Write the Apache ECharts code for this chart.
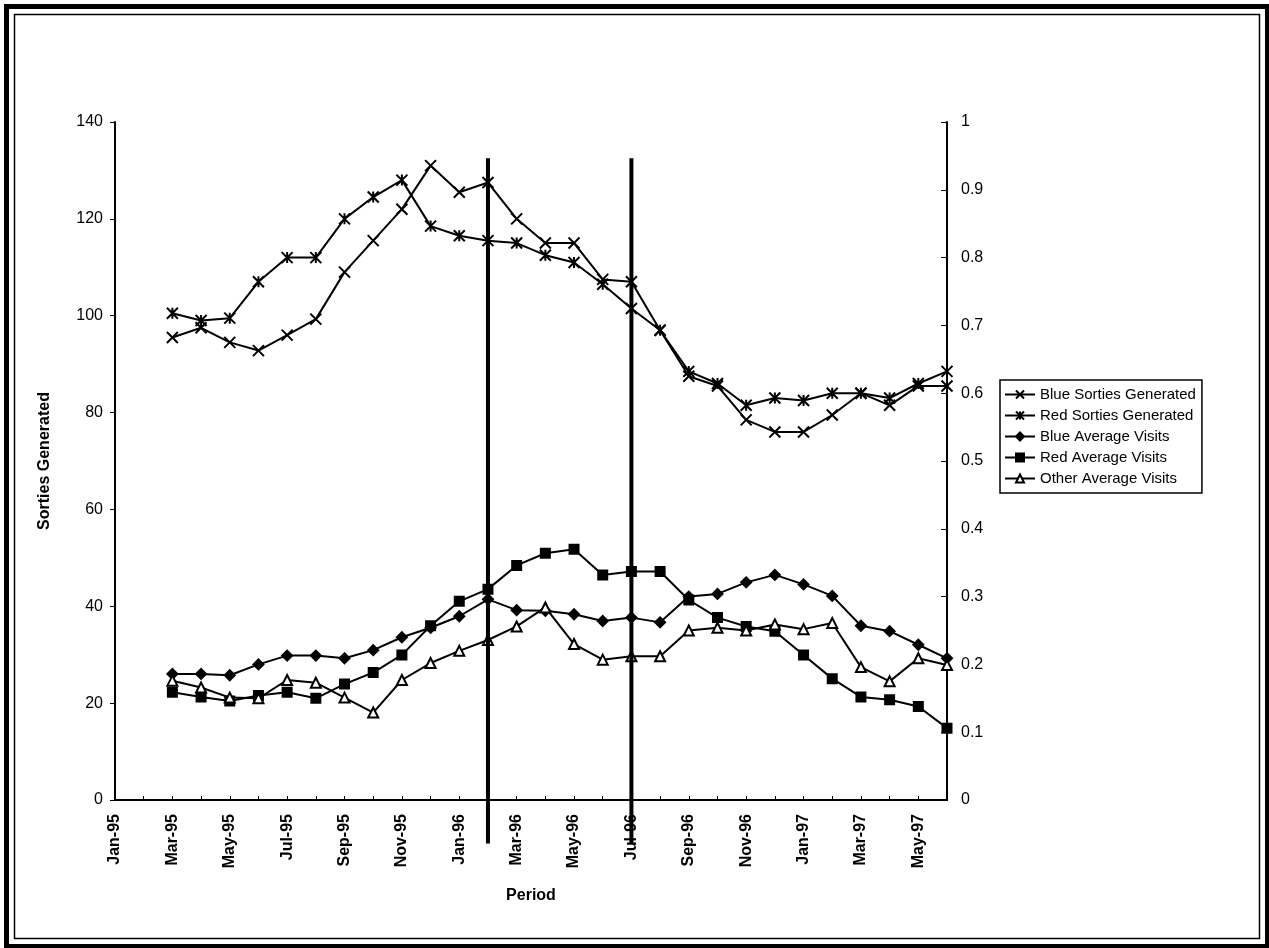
<!DOCTYPE html>
<html><head><meta charset="utf-8">
<script src="https://cdn.jsdelivr.net/npm/echarts@6/dist/echarts.min.js"></script>
<style>html,body{margin:0;background:#fff}#main{width:1269px;height:948px}</style>
</head><body><div id="main"></div>
<script>
// months Jan-95 .. Jun-97
var months = ['Jan-95','Feb-95','Mar-95','Apr-95','May-95','Jun-95','Jul-95','Aug-95','Sep-95','Oct-95','Nov-95','Dec-95',
  'Jan-96','Feb-96','Mar-96','Apr-96','May-96','Jun-96','Jul-96','Aug-96','Sep-96','Oct-96','Nov-96','Dec-96',
  'Jan-97','Feb-97','Mar-97','Apr-97','May-97','Jun-97'];
// sorties (left axis), data starts Mar-95
var blueSorties = ['-','-',95.5,97.5,94.5,92.8,96,99.3,109,115.5,122,131,125.5,127.5,120,115,115,107.5,107,97,87.5,85.5,78.5,76,76,79.5,84,81.5,85.5,85.5];
var redSorties  = ['-','-',100.5,99,99.5,107,112,112,120,124.5,128,118.5,116.5,115.5,115,112.5,111,106.5,101.5,97,88.5,86,81.5,83,82.5,84,84,83,86,88.5];
// average visits (right axis)
var blueVisits  = ['-','-',0.186,0.186,0.184,0.2,0.213,0.213,0.209,0.221,0.24,0.254,0.271,0.296,0.28,0.279,0.274,0.264,0.269,0.262,0.3,0.304,0.321,0.332,0.318,0.301,0.257,0.249,0.229,0.209];
var redVisits   = ['-','-',0.159,0.152,0.146,0.154,0.159,0.15,0.171,0.188,0.214,0.257,0.293,0.311,0.346,0.364,0.37,0.332,0.337,0.337,0.295,0.269,0.256,0.249,0.214,0.179,0.152,0.148,0.138,0.106];
var otherVisits = ['-','-',0.176,0.166,0.151,0.15,0.177,0.173,0.151,0.129,0.177,0.202,0.22,0.236,0.256,0.284,0.23,0.207,0.212,0.212,0.25,0.254,0.25,0.259,0.252,0.261,0.196,0.175,0.209,0.199];
// vertical marker lines (month index, slightly after Feb-96 / at Jul-96)
var markPos = [13.15, 17.95];

var crossPath = 'path://M0,0L10,10M10,0L0,10';
var starPath = 'path://M0,0L10,10M10,0L0,10M5,0L5,10M0,0L10,10';
var font = 'Liberation Sans, Arial, sans-serif';

var chart = echarts.init(document.getElementById('main'));
function line(name, data, axis, symbol, size, fill) {
  return {
    name: name, type: 'line', yAxisIndex: axis, data: data,
    symbol: symbol, symbolSize: size, showAllSymbol: true, animation: false,
    lineStyle: {color: '#000', width: 2},
    itemStyle: {color: fill, borderColor: '#000', borderWidth: 2}
  };
}
var series = [
  line('Blue Sorties Generated', blueSorties, 0, crossPath, 11, '#000'),
  line('Red Sorties Generated', redSorties, 0, starPath, 11, '#000'),
  line('Blue Average Visits', blueVisits, 1, 'diamond', 10, '#000'),
  line('Red Average Visits', redVisits, 1, 'rect', 9, '#000'),
  line('Other Average Visits', otherVisits, 1, 'triangle', 10, '#fff')
];

chart.setOption({
  animation: false,
  textStyle: {fontFamily: font},
  grid: {left: 115, right: 322, top: 122, bottom: 148},
  legend: {
    orient: 'vertical', left: 1000, top: 380, itemGap: 6, itemWidth: 30, itemHeight: 10,
    borderColor: '#000', borderWidth: 1.5, padding: [7, 6, 7, 4],
    textStyle: {fontSize: 15, color: '#000', fontFamily: font},
    data: series.map(function (s) { return s.name; })
  },
  xAxis: {
    type: 'category', data: months, boundaryGap: false,
    name: 'Period', nameLocation: 'middle', nameGap: 88,
    nameTextStyle: {fontSize: 16, fontWeight: 'bold', color: '#000'},
    axisLine: {lineStyle: {color: '#000', width: 2}},
    axisTick: {show: true, interval: 0, inside: true, length: 4, lineStyle: {color: '#000'}},
    axisLabel: {interval: 1, rotate: 90, color: '#000', fontSize: 16, fontWeight: 'bold', margin: 14},
    splitLine: {show: false}
  },
  yAxis: [{
    type: 'value', min: 0, max: 140, interval: 20,
    name: 'Sorties Generated', nameLocation: 'middle', nameGap: 62, nameRotate: 90,
    nameTextStyle: {fontSize: 16, fontWeight: 'bold', color: '#000'},
    axisLine: {show: true, lineStyle: {color: '#000', width: 2}},
    axisTick: {show: true, length: 5, lineStyle: {color: '#000'}},
    axisLabel: {color: '#000', fontSize: 16, margin: 12},
    splitLine: {show: false}
  }, {
    type: 'value', min: 0, max: 1, interval: 0.1, position: 'right',
    axisLine: {show: true, lineStyle: {color: '#000', width: 2}},
    axisTick: {show: true, inside: true, length: 6, lineStyle: {color: '#000'}},
    axisLabel: {color: '#000', fontSize: 16, margin: 14},
    splitLine: {show: false}
  }],
  series: series
});

// frame + vertical lines, placed through the axes' own scales
var graphics = [
  {type: 'rect', left: 4, top: 4, shape: {width: 1261, height: 940}, style: {fill: 'none', stroke: '#000', lineWidth: 5}},
  {type: 'rect', left: 12, top: 12, shape: {width: 1245, height: 924}, style: {fill: 'none', stroke: '#000', lineWidth: 1.5}}
];
markPos.forEach(function (p) {
  var top = chart.convertToPixel({gridIndex: 0}, [p, 132.5]);
  var bot = chart.convertToPixel({gridIndex: 0}, [p, -9]);
  graphics.push({type: 'line', shape: {x1: top[0], y1: top[1], x2: bot[0], y2: bot[1]},
    style: {stroke: '#000', lineWidth: 4}, z: 10});
});
chart.setOption({graphic: graphics});
</script></body></html>
